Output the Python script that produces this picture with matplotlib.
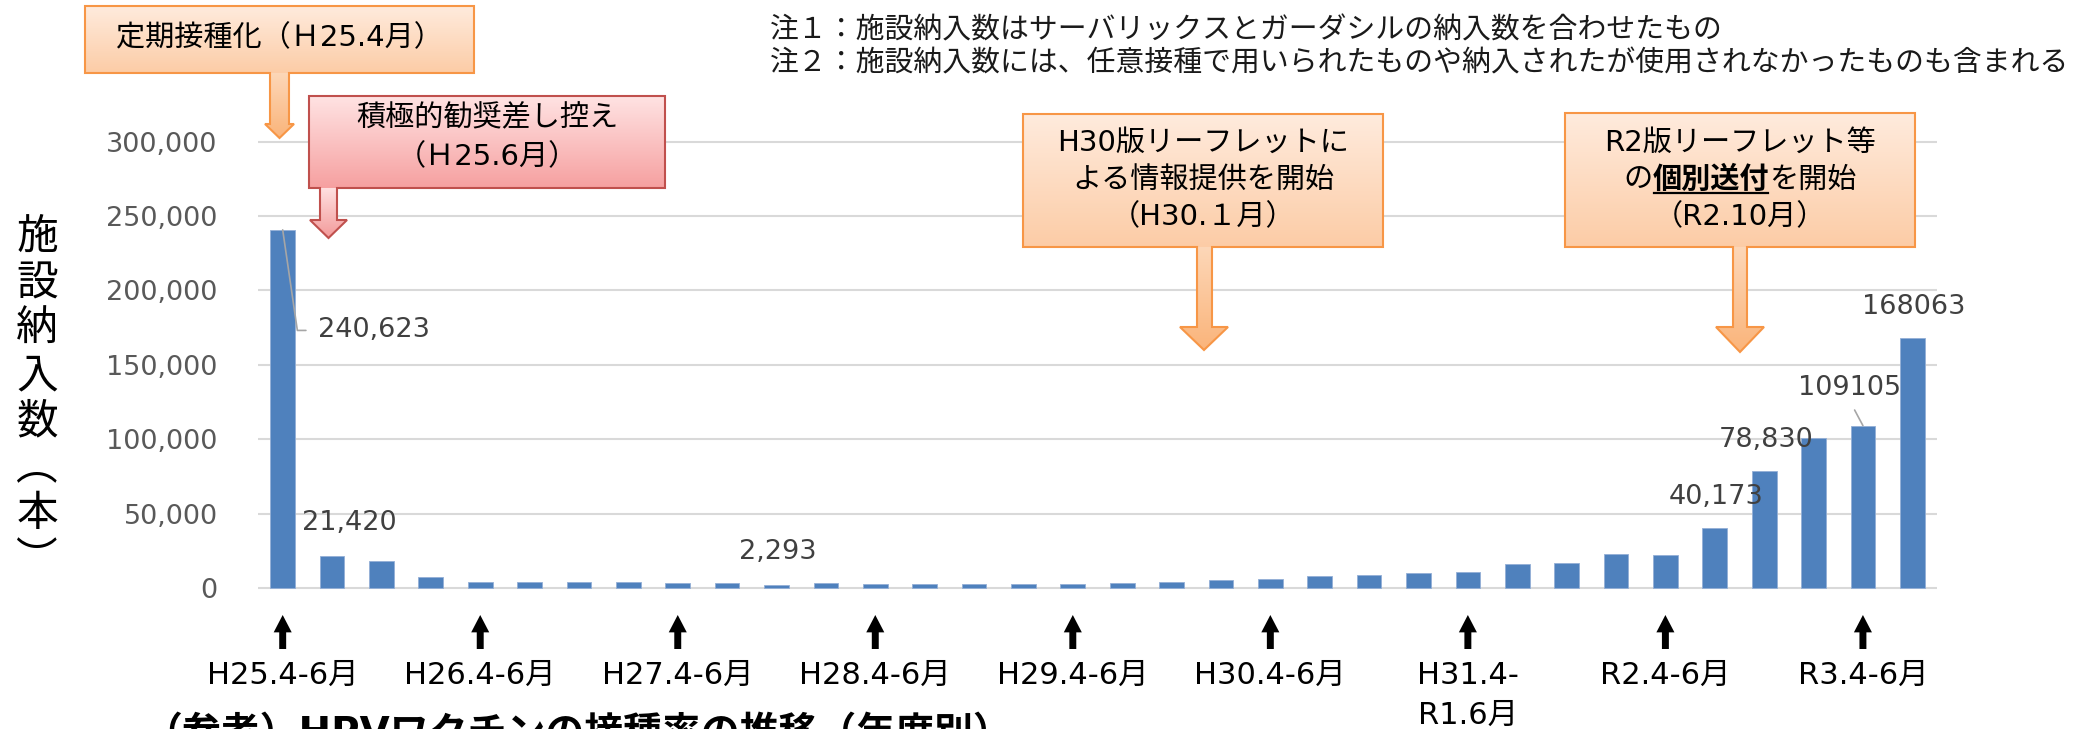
import matplotlib
matplotlib.use('Agg')
import matplotlib.pyplot as plt
import numpy as np
from matplotlib.patches import Polygon
from matplotlib.colors import to_rgb
from matplotlib.transforms import blended_transform_factory

plt.rcParams['font.family'] = ['DejaVu Sans', 'Noto Sans CJK JP']

# quarterly facility deliveries, H25.4-6 ... R3.7-9
quarters = list(range(34))
deliveries = [240623, 21420, 18200, 7400, 3750, 4200, 4200, 3700, 3300, 3300,
              2293, 3300, 2900, 2900, 2550, 2750, 2550, 3650, 4300, 5400,
              6300, 8000, 8750, 10300, 10700, 15900, 16700, 22900, 22300, 40173,
              78830, 100700, 109105, 168063]
tick_pos = [0, 4, 8, 12, 16, 20, 24, 28, 32]
tick_labels = ['H25.4-6月', 'H26.4-6月', 'H27.4-6月', 'H28.4-6月', 'H29.4-6月',
               'H30.4-6月', 'H31.4-\nR1.6月', 'R2.4-6月', 'R3.4-6月']
yticks = [0, 50000, 100000, 150000, 200000, 250000, 300000]
label_idx = [0, 1, 10, 29, 30, 32, 33]
label_comma = [True, True, True, True, True, False, False]

note1 = '注１：施設納入数はサーバリックスとガーダシルの納入数を合わせたもの'
note2 = '注２：施設納入数には、任意接種で用いられたものや納入されたが使用されなかったものも含まれる'
ylabel = '施設納入数︵本︶'
bottom_title = '（参考）HPVワクチンの接種率の推移（年度別）'

W, H = 2091, 729
fig = plt.figure(figsize=(W / 100, H / 100), dpi=100)

# plot area in pixels
x_left, x_right = 258, 1937
y_zero, y_top = 588, 141.5
ppu = (y_zero - y_top) / 300000
ymin, ymax = -1500, 310000
ax_bot = y_zero + (-ymin) * ppu
ax_top = y_zero - ymax * ppu
ax = fig.add_axes([x_left / W, 1 - ax_bot / H, (x_right - x_left) / W, (ax_bot - ax_top) / H])

ax.bar(quarters, deliveries, width=0.5, color='#4F81BD', edgecolor='#93AFD6', linewidth=0.6, zorder=2)
ax.set_xlim(-0.5, len(quarters) - 0.5)
ax.set_ylim(ymin, ymax)
ax.set_yticks(yticks)
ax.set_yticklabels([f'{v:,}' for v in yticks])
ax.yaxis.grid(True, color='#D9D9D9', linewidth=1.5)
ax.set_axisbelow(True)
ax.set_xticks([])
for s in ax.spines.values():
    s.set_visible(False)
ax.tick_params(axis='y', length=0, pad=29, labelsize=19.5, labelcolor='#595959')

# overlay in figure pixels for annotations
ov = fig.add_axes([0, 0, 1, 1], zorder=5)
ov.axis('off')

# data labels
offsets = {0: (65.5, -72.4), 1: (12.7, 23.8), 10: (0.7, 23.5), 29: (0.7, 22.4),
           30: (1.4, 22), 32: (-9.4, 27), 33: (0.7, 22)}
for i, comma in zip(label_idx, label_comma):
    v = deliveries[i]
    txt = f'{v:,}' if comma else str(v)
    kw = {}
    if i == 0:
        kw['arrowprops'] = dict(arrowstyle='-', color='#A6A6A6', lw=1.2, shrinkA=6.5, shrinkB=0,
                                relpos=(0, 0.5), connectionstyle='angle,angleA=0,angleB=-81.7,rad=0')
    elif i == 32:
        kw['arrowprops'] = dict(arrowstyle='-', color='#A6A6A6', lw=1.2, shrinkA=5, shrinkB=0,
                                relpos=(0.5, 0))
    ax.annotate(txt, xy=(i, v), xytext=offsets[i], textcoords='offset points',
                ha='center', va='center', fontsize=19.5, color='#404040',
                annotation_clip=False, **kw)

# x category labels with black arrows
bt = blended_transform_factory(ax.transData, ov.transData)
for p, lab in zip(tick_pos, tick_labels):
    ax.annotate('', xy=(p, 615), xytext=(p, 649), xycoords=bt, textcoords=bt,
                arrowprops=dict(arrowstyle='simple,head_length=1.25,head_width=1.3,tail_width=0.5',
                                color='black', lw=0, shrinkA=0, shrinkB=0, mutation_scale=10),
                annotation_clip=False)
    for k, line in enumerate(lab.split('\n')):
        ov.text(p, 684 + k * 40, line, transform=bt, ha='center', va='baseline',
                fontsize=22, color='black')

# vertical y label
for k, ch in enumerate(ylabel):
    ov.text(37, 237 + k * 46.1, ch, fontsize=30, ha='center', va='center', color='black')

# notes
ov.text(770, 30, note1, fontsize=20.75, ha='left', va='center', color='#1A1A1A')
ov.text(770, 63, note2, fontsize=20.75, ha='left', va='center', color='#1A1A1A')

# bottom (cut off) title
ov.text(143, 745, bottom_title, fontsize=28, fontweight='bold', ha='left', va='baseline', color='black')


def gradient(c_top, c_bot, extent, clip):
    g = np.linspace(0, 1, 256)[:, None, None]
    img = np.array(to_rgb(c_top)) * (1 - g) + np.array(to_rgb(c_bot)) * g
    im = ov.imshow(img, extent=extent, origin='upper', aspect='auto', interpolation='bilinear', zorder=2)
    im.set_clip_path(clip)


def callout(box, stem, head, tip, box_cols, arrow_cols, edge):
    x0, y0, x1, y1 = box
    sx0, sx1 = stem
    hx0, hx1, hy = head
    tx, ty = tip
    verts = [(x0, y0), (x1, y0), (x1, y1), (sx1, y1), (sx1, hy), (hx1, hy), (tx, ty),
             (hx0, hy), (sx0, hy), (sx0, y1), (x0, y1)]
    clip = Polygon(verts, closed=True, transform=ov.transData)
    gradient(box_cols[0], box_cols[1], (x0, x1, y1, y0), clip)
    gradient(arrow_cols[0], arrow_cols[1], (hx0, hx1, ty, y1), clip)
    ov.add_patch(Polygon(verts, closed=True, fill=False, edgecolor=edge, lw=1.5,
                         joinstyle='miter', zorder=3))


orange_box = ('#FFEBDD', '#FCCCA6')
orange_arrow = ('#FDD7B8', '#FAB47A')
callout((85, 6, 474, 73), (270, 289), (265, 294, 124), (279.5, 138), orange_box, orange_arrow, '#F79646')
callout((309, 96, 665, 188), (320, 337), (310, 347, 220), (328.5, 238),
        ('#FFE3E3', '#F6A0A0'), ('#FFE0E0', '#F39A9A'), '#C0504D')
callout((1023, 114, 1383, 247), (1197, 1212), (1180, 1228, 327), (1204, 350), orange_box, orange_arrow, '#F79646')
callout((1565, 113, 1915, 247), (1733, 1747), (1716, 1764, 327), (1740, 352), orange_box, orange_arrow, '#F79646')

tkw = dict(fontsize=21, ha='center', va='center', color='black', zorder=4)
ov.text(279.5, 38, '定期接種化（Ｈ25.4月）', **tkw)
ov.text(487, 118, '積極的勧奨差し控え', **tkw)
ov.text(487, 157, '（Ｈ25.6月）', **tkw)
ov.text(1203, 143, 'H30版リーフレットに', **tkw)
ov.text(1203, 180, 'よる情報提供を開始', **tkw)
ov.text(1203, 217, '（H30.１月）', **tkw)
ov.text(1740, 143, 'R2版リーフレット等', **tkw)
ov.text(1740, 217, '（R2.10月）', **tkw)

# mixed-style line: の + bold underlined 個別送付 + を開始
renderer = fig.canvas.get_renderer()
parts = [('の', 'normal'), ('個別送付', 'bold'), ('を開始', 'normal')]
objs = []
for s, w in parts:
    t = ov.text(0, 180, s, fontsize=21, fontweight=w, ha='left', va='center', color='black', zorder=4)
    objs.append(t)
widths = [t.get_window_extent(renderer).width for t in objs]
x = 1740 - sum(widths) / 2
for t, wd, (s, w) in zip(objs, widths, parts):
    t.set_x(x)
    if w == 'bold':
        ov.plot([x + 1, x + wd - 1], [193, 193], color='black', lw=1.6, zorder=4)
    x += wd

ov.set_xlim(0, W)
ov.set_ylim(H, 0)

fig.savefig('out.png', dpi=100)
